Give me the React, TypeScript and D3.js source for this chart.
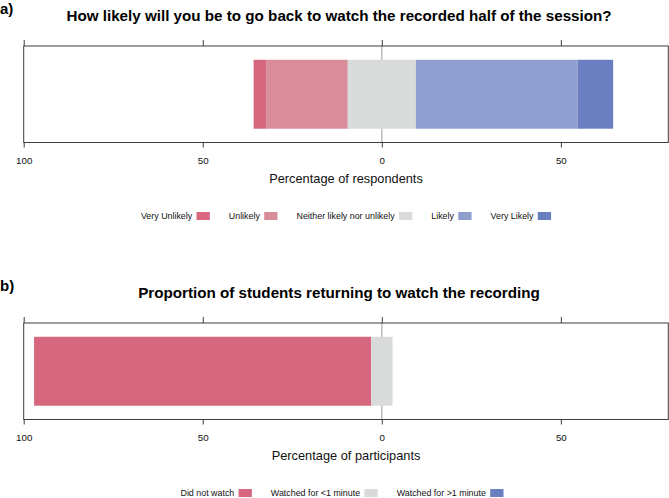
import React, { useEffect, useRef } from "react";
import * as d3 from "d3";

const likertCategories = ["Very Unlikely", "Unlikely", "Neither likely nor unlikely", "Likely", "Very Likely"];
const likertValues = [3.5, 22.8, 19.0, 45.2, 9.9];
const likertColors = ["#d6677e", "#d98c99", "#d9dbda", "#8f9ecf", "#6a7fbf"];

const watchCategories = ["Did not watch", "Watched for <1 minute", "Watched for >1 minute"];
const watchValues = [94.1, 6.0, 0];
const watchColors = ["#d6677e", "#d9dbda", "#6a7fbf"];

const tickValues = [-100, -50, 0, 50];
const xDomain = [-100, 80];

const FONT = "'Liberation Sans', Arial, Helvetica, sans-serif";

const W = 669;
const H = 498;

type PanelCfg = {
  label: string;
  title: string;
  axisTitle: string;
  categories: string[];
  values: number[];
  colors: string[];
  neutralIndex: number;
  offsetY: number;
  legendCenter: number;
};

const panels: PanelCfg[] = [
  {
    label: "a)",
    title: "How likely will you be to go back to watch the recorded half of the session?",
    axisTitle: "Percentage of respondents",
    categories: likertCategories,
    values: likertValues,
    colors: likertColors,
    neutralIndex: 2,
    offsetY: 0,
    legendCenter: 346,
  },
  {
    label: "b)",
    title: "Proportion of students returning to watch the recording",
    axisTitle: "Percentage of participants",
    categories: watchCategories,
    values: watchValues,
    colors: watchColors,
    neutralIndex: 1,
    offsetY: 277,
    legendCenter: 342,
  },
];

export default function App() {
  const ref = useRef<SVGSVGElement | null>(null);

  useEffect(() => {
    const svg = d3.select(ref.current);
    svg.selectAll("*").remove();

    const x = d3.scaleLinear().domain(xDomain).range([23.7, 668.3]);
    const boxTop = 46;
    const boxBottom = 142.5;

    panels.forEach((p) => {
      const g = svg.append("g").attr("transform", `translate(0,${p.offsetY})`);
      const y = d3.scaleBand().domain(["row"]).range([boxTop, boxBottom]).paddingInner(0).paddingOuter(0.2);

      // panel label and title
      g.append("text").attr("x", 0).attr("y", 13.5).attr("font-family", FONT).attr("font-weight", "bold").attr("font-size", 15).text(p.label);
      g.append("text").attr("x", 339).attr("y", 20.5).attr("text-anchor", "middle").attr("font-family", FONT).attr("font-weight", "bold").attr("font-size", 15.2).text(p.title);

      // zero line
      g.append("line").attr("x1", x(0)).attr("x2", x(0)).attr("y1", boxTop).attr("y2", boxBottom).attr("stroke", "#bdbdbd").attr("stroke-width", 1.5);

      // stacked diverging bars
      const neutralHalf = p.values[p.neutralIndex] / 2;
      const before = d3.sum(p.values.slice(0, p.neutralIndex));
      let start = -(before + neutralHalf);
      p.values.forEach((v, i) => {
        const x0 = start;
        const x1 = start + v;
        start = x1;
        if (v <= 0) return;
        g.append("rect")
          .attr("x", x(x0))
          .attr("width", x(x1) - x(x0))
          .attr("y", y("row")!)
          .attr("height", y.bandwidth())
          .attr("fill", p.colors[i]);
      });

      // box
      g.append("rect").attr("x", x(xDomain[0])).attr("y", boxTop).attr("width", x(xDomain[1]) - x(xDomain[0])).attr("height", boxBottom - boxTop).attr("fill", "none").attr("stroke", "#3c3c3c").attr("stroke-width", 1);

      // top ticks
      const topAxis = d3.axisTop(x).tickValues(tickValues).tickSize(6).tickFormat(() => "");
      const ta = g.append("g").attr("transform", `translate(0,${boxTop})`).call(topAxis);
      ta.select(".domain").remove();
      ta.selectAll("line").attr("stroke", "#3c3c3c");

      // bottom ticks
      const bottomAxis = d3.axisBottom(x).tickValues(tickValues).tickSize(5).tickPadding(10).tickFormat((d) => String(Math.abs(+d)));
      const ba = g.append("g").attr("transform", `translate(0,${boxBottom})`).call(bottomAxis);
      ba.select(".domain").remove();
      ba.selectAll("line").attr("stroke", "#3c3c3c");
      ba.selectAll("text").attr("font-family", FONT).attr("font-size", 9.8).attr("fill", "#111");

      // axis title
      g.append("text").attr("x", 346).attr("y", 183).attr("text-anchor", "middle").attr("font-family", FONT).attr("font-size", 12.8).attr("fill", "#111").text(p.axisTitle);

      // legend
      const lg = g.append("g");
      const items = lg.selectAll("g.item").data(p.categories).enter().append("g").attr("class", "item");
      const texts = items.append("text").attr("font-family", FONT).attr("font-size", 8.9).attr("fill", "#111").attr("y", 219).text((d) => d);
      const widths: number[] = [];
      texts.each(function () {
        widths.push((this as SVGTextElement).getComputedTextLength());
      });
      const sw = 13.3;
      const gapText = 4.3;
      const gapItem = 19;
      const total = d3.sum(widths) + p.categories.length * (gapText + sw) + (p.categories.length - 1) * gapItem;
      let cx = p.legendCenter - total / 2;
      items.each(function (_d, i) {
        const it = d3.select(this);
        it.select("text").attr("x", cx);
        cx += widths[i] + gapText;
        it.append("rect").attr("x", cx).attr("y", 212).attr("width", sw).attr("height", 8).attr("fill", p.colors[i]);
        cx += sw + gapItem;
      });
    });
  }, []);

  return (
    <svg ref={ref} width={W} height={H} style={{ position: "absolute", left: 0, top: 0, background: "#fff" }} />
  );
}
